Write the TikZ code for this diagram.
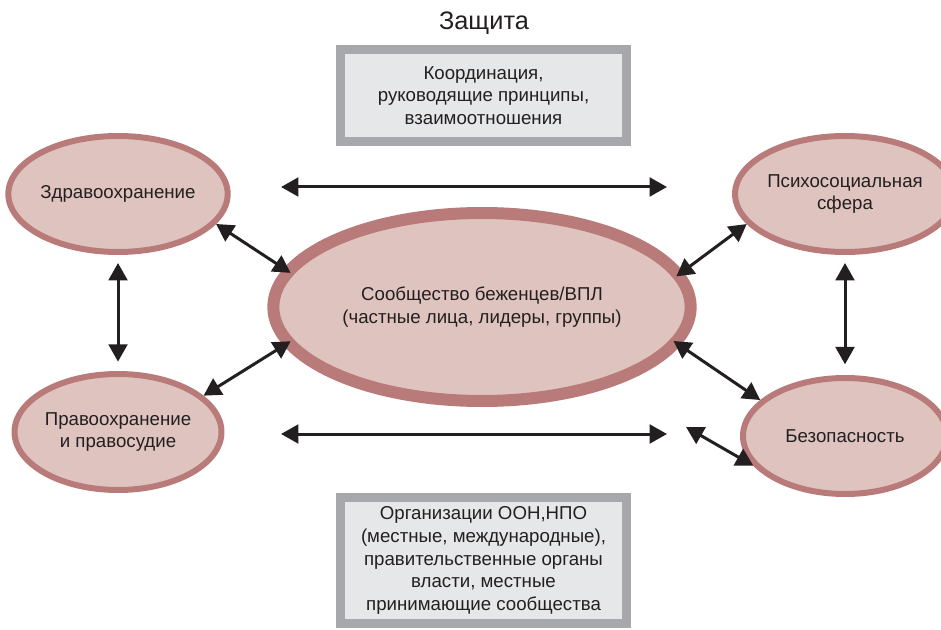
\documentclass[tikz,border=0pt]{standalone}
\usepackage{fontspec}
\setmainfont{Liberation Sans}
\usepackage{xcolor}
\usetikzlibrary{arrows.meta,shapes.geometric,positioning}

\definecolor{rimrose}{HTML}{B97B7A}
\definecolor{fillrose}{HTML}{DFC3BF}
\definecolor{framegray}{HTML}{A7A8AB}
\definecolor{panelgray}{HTML}{E6E7E8}
\definecolor{inkdark}{HTML}{231F20}

\begin{document}
\begin{tikzpicture}
    [
    x=0.75pt, y=-0.75pt,
    area/.style = {ellipse, draw=rimrose, fill=fillrose, line width=4.5pt, minimum width=153pt, minimum height=87pt, inner sep=0pt, align=center, text=inkdark, font=\fontsize{14}{17}\selectfont},
    hub/.style = {area, line width=9pt, minimum width=313pt, minimum height=141pt},
    panel/.style = {rectangle, draw=framegray, fill=panelgray, line width=6.75pt, minimum width=214.5pt, inner sep=0pt, align=center, text=inkdark, font=\fontsize{14}{17}\selectfont},
    link/.style = {{Triangle[length=13pt,width=14pt]}-{Triangle[length=13pt,width=14pt]}, line width=2.25pt, draw=inkdark},
    reach/.style = {shorten <=-6pt}
    ]

    \useasboundingbox (0,0) rectangle (941,630);

% Nodes
    \node[font=\fontsize{19}{22}\selectfont, text=inkdark] (title) at (484,23) {Защита};
    \node[panel, minimum height=69pt] (coord) at (483.5,95.5) {Координация,\\руководящие принципы,\\взаимоотношения};
    \node[hub] (community) at (482,307) {Сообщество беженцев/ВПЛ\\(частные лица, лидеры, группы)};
    \node[area] (health) at (118,194) {Здравоохранение};
    \node[area] (psycho) at (845,194) {Психосоциальная\\сфера};
    \node[area] (law) at (118,432) {Правоохранение\\и правосудие};
    \node[area] (safety) at (845,436) {Безопасность};
    \node[panel, minimum height=94.5pt] (agencies) at (483.5,560.5) {Организации ООН,НПО\\(местные, международные),\\правительственные органы\\власти, местные\\принимающие сообщества};

    \coordinate (topleft) at (281,187);
    \coordinate (topright) at (667,187);
    \coordinate (botleft) at (281,434);
    \coordinate (botright) at (667,434);
    \coordinate (safetyfree) at (686,427);

% Arrows
    \draw[link] (topleft) -- (topright);
    \draw[link] (botleft) -- (botright);
    \draw[link, shorten <=6pt, shorten >=7pt] (health) -- (law);
    \draw[link, shorten <=6pt, shorten >=8pt] (psycho) -- (safety);
    \draw[link, reach] (community.169) -- (health.-17);
    \draw[link, reach] (community.191.8) -- (law.23);
    \draw[link, reach] (community.10.7) -- (psycho.197.7);
    \draw[link, reach] (community.-11.8) -- (safety.157);
    \draw[link] (safetyfree) -- (safety.198);

\end{tikzpicture}
\end{document}
